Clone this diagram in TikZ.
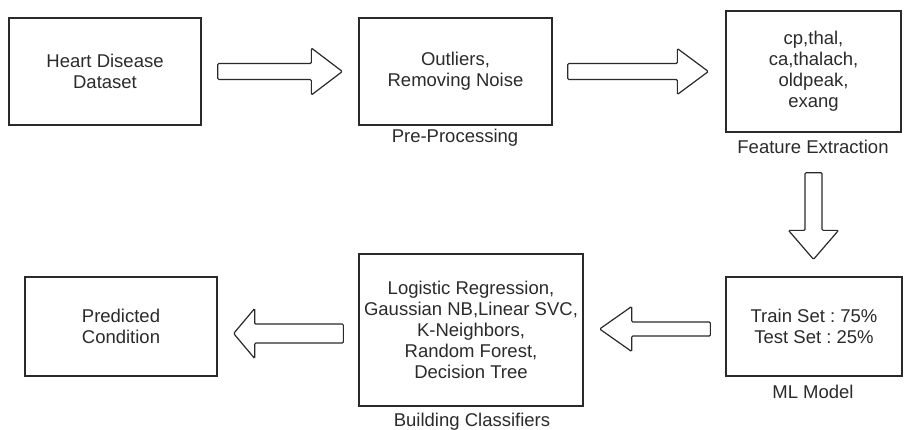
\documentclass[tikz,border=0pt]{standalone}
\usepackage{fontspec}
\setmainfont{Liberation Sans}
\usetikzlibrary{calc}
\frenchspacing
\definecolor{txt}{HTML}{2B2B2B}
\definecolor{ln}{HTML}{2A2A2A}
\tikzset{
  box/.style={draw=ln, line width=1.3pt, fill=white, align=center, inner sep=0pt,
    text=txt, font=\fontsize{18.5}{21}\selectfont},
  lbl/.style={inner sep=0pt, text=txt, font=\fontsize{18.5}{21}\selectfont},
  barrow/.style={draw=ln, line width=1.2pt, fill=white, line join=miter, rounded corners=1.2pt}
}
\newcommand\blockarr[5]{%
  \coordinate (hb) at ($(#2)!#5!(#1)$);
  \draw[barrow] ($(#1)!#3!90:(#2)$) -- ($(hb)!#3!-90:(#1)$) -- ($(hb)!#4!-90:(#1)$)
    -- (#2) -- ($(hb)!#4!90:(#1)$) -- ($(hb)!#3!90:(#1)$) -- ($(#1)!#3!-90:(#2)$) -- cycle;
}
\begin{document}
\begin{tikzpicture}[x=1pt,y=-1pt]
\useasboundingbox[fill=white] (0,0) rectangle (905,429);
% boxes
\node[box, minimum width=192pt, minimum height=107pt] (hd) at (105,71.5) {Heart Disease\\Dataset};
\node[box, minimum width=193pt, minimum height=107pt] (out) at (455.5,71.5) {Outliers,\\Removing Noise};
\node[box, minimum width=175pt, minimum height=121pt] (fe) at (813.5,71.5) {cp,thal,\\ca,thalach,\\oldpeak,\\exang};
\node[box, minimum width=176pt, minimum height=99pt] (ml) at (814,326.5) {Train Set : 75\%\\Test Set : 25\%};
\node[box, minimum width=224pt, minimum height=152pt] (bc) at (471,330) {Logistic Regression,\\Gaussian NB,Linear SVC,\\K-Neighbors,\\Random Forest,\\Decision Tree};
\node[box, minimum width=192pt, minimum height=99pt] (pc) at (121,326.5) {Predicted\\Condition};
% labels
\node[lbl] (lpre) at (455,138) {Pre-Processing};
\node[lbl] (lfe) at (813,147) {Feature Extraction};
\node[lbl] (lml) at (813,392) {ML Model};
\node[lbl] (lbc) at (472,422) {Building Classifiers};
% arrow end points
\coordinate (a1s) at ($(hd.east)+(16,0)$);
\coordinate (a1t) at ($(out.west)+(-16,0)$);
\coordinate (a2s) at ($(out.east)+(15,0)$);
\coordinate (a2t) at ($(fe.west)+(-17,0)$);
\coordinate (a3s) at ($(fe.south)+(0,40)$);
\coordinate (a3t) at ($(ml.north)+(-0.5,-17)$);
\coordinate (a4s) at ($(ml.west)+(-15,2.5)$);
\coordinate (a4t) at ($(bc.east)+(16,-1)$);
\coordinate (a5s) at ($(bc.west)+(-15,3.5)$);
\coordinate (a5t) at ($(pc.east)+(16,7)$);
% block arrows
\blockarr{a1s}{a1t}{8pt}{23.5pt}{31pt}
\blockarr{a2s}{a2t}{8pt}{23pt}{31pt}
\blockarr{a3s}{a3t}{8.5pt}{25pt}{29pt}
\blockarr{a4s}{a4t}{7pt}{22.5pt}{32pt}
\blockarr{a5s}{a5t}{9.5pt}{25pt}{21pt}
\end{tikzpicture}
\end{document}
